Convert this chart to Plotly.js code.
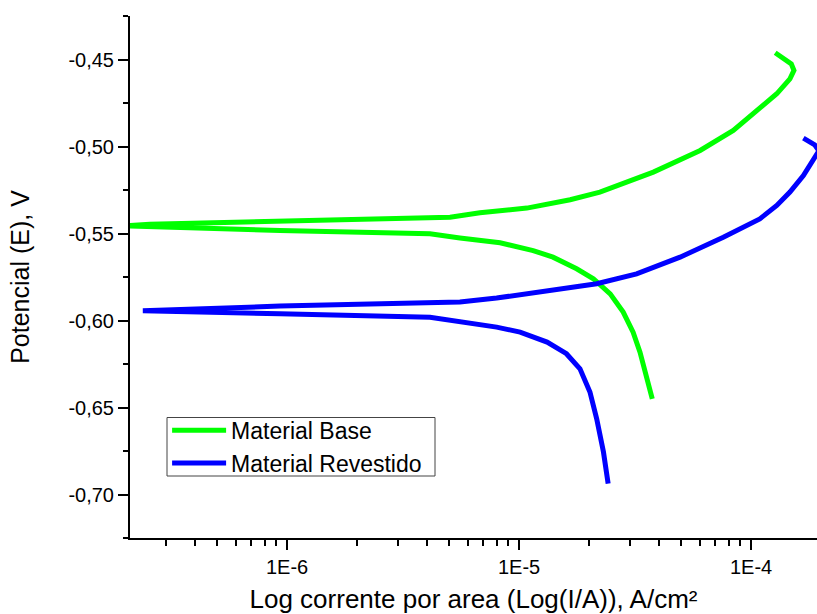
<!DOCTYPE html>
<html>
<head>
<meta charset="utf-8">
<script src="https://cdn.plot.ly/plotly-3.0.1.min.js"></script>
<style>html,body{margin:0;padding:0;background:#fff;}#chart{width:817px;height:614px;}</style>
</head>
<body>
<div id="chart"></div>
<script>
// Material Base (green): from cathodic end, through Ecorr, along anodic branch
const baseCurrent = [3.75e-5, 3.55e-5, 3.32e-5, 3.10e-5, 2.81e-5, 2.47e-5, 2.09e-5, 1.77e-5, 1.40e-5, 1.15e-5, 8.28e-6, 5.56e-6, 4.13e-6, 9.32e-7, 2.56e-7, 2.0e-7, 2.56e-7, 9.32e-7, 5.04e-6, 6.78e-6, 1.08e-5, 1.66e-5, 2.23e-5, 3.79e-5, 5.27e-5, 6.03e-5, 8.38e-5, 9.58e-5, 1.09e-4, 1.29e-4, 1.47e-4, 1.53e-4, 1.49e-4, 1.27e-4];
const basePotential = [-0.6450, -0.6316, -0.6182, -0.6067, -0.5952, -0.5847, -0.5760, -0.5703, -0.5636, -0.5598, -0.5553, -0.5526, -0.5502, -0.5483, -0.5464, -0.5456, -0.5447, -0.5431, -0.5406, -0.5381, -0.5354, -0.5306, -0.5262, -0.5147, -0.5061, -0.5023, -0.4908, -0.4841, -0.4774, -0.4697, -0.4611, -0.4563, -0.4525, -0.4461];

// Material Revestido (blue)
const coatedCurrent = [2.42e-5, 2.31e-5, 2.16e-5, 2.02e-5, 1.83e-5, 1.60e-5, 1.32e-5, 1.01e-5, 8.00e-6, 5.56e-6, 4.13e-6, 9.32e-7, 2.39e-7, 9.32e-7, 3.74e-6, 5.56e-6, 8.00e-6, 1.23e-5, 2.16e-5, 3.21e-5, 4.94e-5, 7.59e-5, 1.09e-4, 1.29e-4, 1.47e-4, 1.68e-4, 1.85e-4, 1.96e-4, 1.88e-4, 1.68e-4];
const coatedPotential = [-0.6938, -0.6756, -0.6565, -0.6411, -0.6278, -0.6191, -0.6124, -0.6067, -0.6038, -0.6005, -0.5981, -0.5961, -0.5944, -0.5917, -0.5904, -0.5894, -0.5871, -0.5837, -0.5789, -0.5732, -0.5636, -0.5521, -0.5416, -0.5339, -0.5262, -0.5167, -0.5071, -0.5025, -0.4990, -0.4952];

const seriesNames = ['Material Base', 'Material Revestido'];
const seriesColors = ['#00ff00', '#0000ff'];

const xTickVals = [1e-6, 1e-5, 1e-4];
const xTickText = ['1E-6', '1E-5', '1E-4'];
const xMinorVals = [3e-7, 4e-7, 5e-7, 6e-7, 7e-7, 8e-7, 9e-7, 2e-6, 3e-6, 4e-6, 5e-6, 6e-6, 7e-6, 8e-6, 9e-6, 2e-5, 3e-5, 4e-5, 5e-5, 6e-5, 7e-5, 8e-5, 9e-5];
const yTickVals = [-0.70, -0.65, -0.60, -0.55, -0.50, -0.45];
const yTickText = ['-0,70', '-0,65', '-0,60', '-0,55', '-0,50', '-0,45'];

const FONT = '"Liberation Sans", Arial, Helvetica, sans-serif';

const traces = [
  {x: baseCurrent, y: basePotential, name: seriesNames[0], mode: 'lines', type: 'scatter',
   line: {color: seriesColors[0], width: 5}},
  {x: coatedCurrent, y: coatedPotential, name: seriesNames[1], mode: 'lines', type: 'scatter',
   line: {color: seriesColors[1], width: 5}}
];

const layout = {
  width: 817, height: 614,
  margin: {l: 130, r: 0, t: 16, b: 76, pad: 0},
  paper_bgcolor: '#ffffff', plot_bgcolor: '#ffffff',
  separators: ',.',
  font: {family: FONT, color: '#000', size: 20},
  showlegend: true,
  legend: {
    x: 0.054, y: 0.2477, xanchor: 'left', yanchor: 'top',
    bgcolor: 'rgba(0,0,0,0)', borderwidth: 0,
    font: {family: FONT, size: 23, color: '#000'},
    itemwidth: 54, tracegroupgap: 0
  },
  shapes: [
    {type: 'rect', xref: 'paper', yref: 'paper',
     x0: (167 - 130) / 687, x1: (435 - 130) / 687,
     y0: (538 - 476) / 522, y1: (538 - 417.5) / 522,
     line: {color: '#444', width: 1}, fillcolor: 'rgba(0,0,0,0)', layer: 'above'}
  ],
  xaxis: {
    type: 'log', range: [-6.677, -3.716],
    showline: true, linecolor: '#000', linewidth: 2, mirror: false,
    showgrid: false, zeroline: false,
    ticks: 'outside', ticklen: 10, tickwidth: 2, tickcolor: '#000',
    tickmode: 'array', tickvals: xTickVals, ticktext: xTickText,
    tickfont: {family: FONT, size: 20},
    minor: {tickmode: 'array', tickvals: xMinorVals, ticks: 'outside', ticklen: 6, tickwidth: 2, tickcolor: '#000', showgrid: false},
    title: {text: 'Log corrente por area (Log(I/A)), A/cm²', font: {family: FONT, size: 26}, standoff: 16}
  },
  yaxis: {
    range: [-0.725, -0.425],
    showline: true, linecolor: '#000', linewidth: 2, mirror: false,
    showgrid: false, zeroline: false,
    ticks: 'outside', ticklen: 10, tickwidth: 2, tickcolor: '#000',
    tickmode: 'array', tickvals: yTickVals, ticktext: yTickText,
    tickfont: {family: FONT, size: 20},
    minor: {tickmode: 'linear', tick0: -0.425, dtick: 0.05, ticks: 'outside', ticklen: 5, tickwidth: 2, tickcolor: '#000', showgrid: false},
    title: {text: 'Potencial (E), V', font: {family: FONT, size: 25}, standoff: 32}
  }
};

Plotly.newPlot('chart', traces, layout, {displayModeBar: false, staticPlot: true});
</script>
</body>
</html>
